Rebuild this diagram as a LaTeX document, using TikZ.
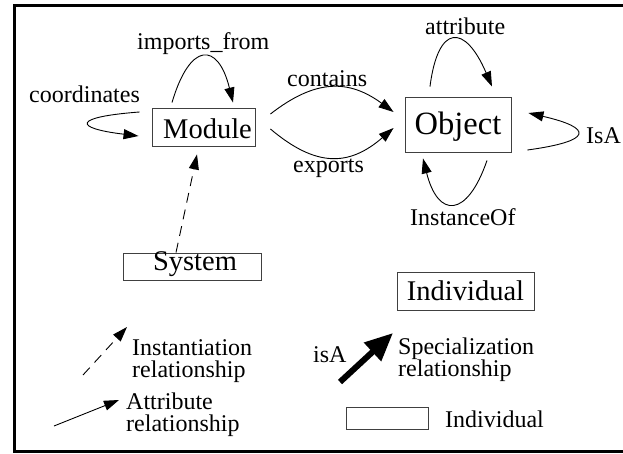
\documentclass[tikz,border=0pt]{standalone}
\usepackage{fontspec}
\setmainfont{Liberation Serif}
\usetikzlibrary{arrows.meta}

% two-line label, baseline on its first line
\newcommand{\twolines}[2]{\begin{tabular}[t]{@{}l@{}}#1\\#2\end{tabular}}

\begin{document}
\begin{tikzpicture}[x=1pt,y=1pt,
  box/.style={draw=black!75, line width=0.9pt, inner sep=0pt},
  boxtext/.style={font=\fontsize{28.5}{28.5}\selectfont},
  lbl/.style={anchor=base west, inner sep=0pt, font=\fontsize{24}{21}\selectfont},
  rel/.style={line width=0.9pt, -{Triangle[length=15pt,width=10pt]}},
  inst/.style={rel, dash pattern=on 10pt off 7pt},
  spec/.style={line width=6pt, -{Triangle[length=28pt,width=24pt]}},
]
\useasboundingbox (0,0) rectangle (623,453);

% frame (open on the right)
\draw[line width=3pt] (623,447.5) -- (14.5,447.5) -- (14.5,2) -- (623,2);

% class boxes
\node[box, boxtext, minimum width=103pt, minimum height=38pt, text height=24pt, text depth=0pt] (module) at (203.5,326) {\hspace*{8pt}Module};
\node[box, minimum width=106pt, minimum height=55pt, text height=24pt, text depth=3pt, font=\fontsize{32.5}{32.5}\selectfont] (object) at (458,328.5) {Object};
\node[box, boxtext, minimum width=138pt, minimum height=27pt, text height=17pt, text depth=10pt] (system) at (192,186.5) {\hspace*{6pt}System};
\node[box, boxtext, minimum width=137pt, minimum height=38pt, text height=20pt, text depth=2pt] (individual) at (465.5,162) {Individual};

% relationships
\draw[rel] ([shift={(-31.5,5)}]module.north) .. controls +(18,61) and +(-15,61) .. ([shift={(29.5,5)}]module.north);
\draw[rel] ([shift={(-12,15)}]module.west) .. controls +(-67,-5) and +(-66,8) .. ([shift={(-13,-9)}]module.west);
\draw[rel] ([shift={(15,13)}]module.east) .. controls +(45,35) and +(-45,33) .. ([shift={(-11,12.5)}]object.west);
\draw[rel] ([shift={(15,-2)}]module.east) .. controls +(45,-38) and +(-45,-39) .. ([shift={(-11,-3.5)}]object.west);
\draw[rel] ([shift={(-28,10)}]object.north) .. controls +(8,63) and +(-27,63) .. ([shift={(34,10)}]object.north);
\draw[rel] ([shift={(16,-25.5)}]object.east) .. controls +(66,9) and +(65,-15) .. ([shift={(17,11.5)}]object.east);
\draw[rel] ([shift={(29,-8)}]object.south) .. controls +(-20,-58) and +(15,-60) .. ([shift={(-35,-6)}]object.south);
\draw[inst] ([shift={(-16,0)}]system.north) -- ([shift={(-6.5,-8)}]module.south);

% relationship labels
\node[lbl] (limports) at (137,403) {imports\_from};
\node[lbl] (lcoord) at (29,350) {coordinates};
\node[lbl] (lcontains) at (287,366) {contains};
\node[lbl] (lexports) at (293,280) {exports};
\node[lbl] (lattr) at (425,418) {attribute};
\node[lbl] (lisa) at (586,309) {IsA};
\node[lbl] (linstof) at (410,228) {InstanceOf};

% legend
\coordinate (instA) at (83,78);
\coordinate (instB) at (127,126);
\draw[inst] (instA) -- (instB);
\node[lbl] (linst) at (132,98) {\twolines{Instantiation}{relationship}};

\coordinate (attA) at (54,27);
\coordinate (attB) at (119,53);
\draw[rel] (attA) -- (attB);
\node[lbl] (latt) at (126,44) {\twolines{Attribute}{relationship}};

\coordinate (specA) at (340,71);
\coordinate (specB) at (393,120);
\draw[spec] (specA) -- (specB);
\node[lbl] (lisA) at (313,91) {isA};
\node[lbl] (lspec) at (398,99) {\twolines{Specialization}{relationship}};

\node[box, minimum width=82pt, minimum height=22pt] (legbox) at (387,35) {};
\node[lbl] (lindiv) at (445,26) {Individual};
\end{tikzpicture}
\end{document}
